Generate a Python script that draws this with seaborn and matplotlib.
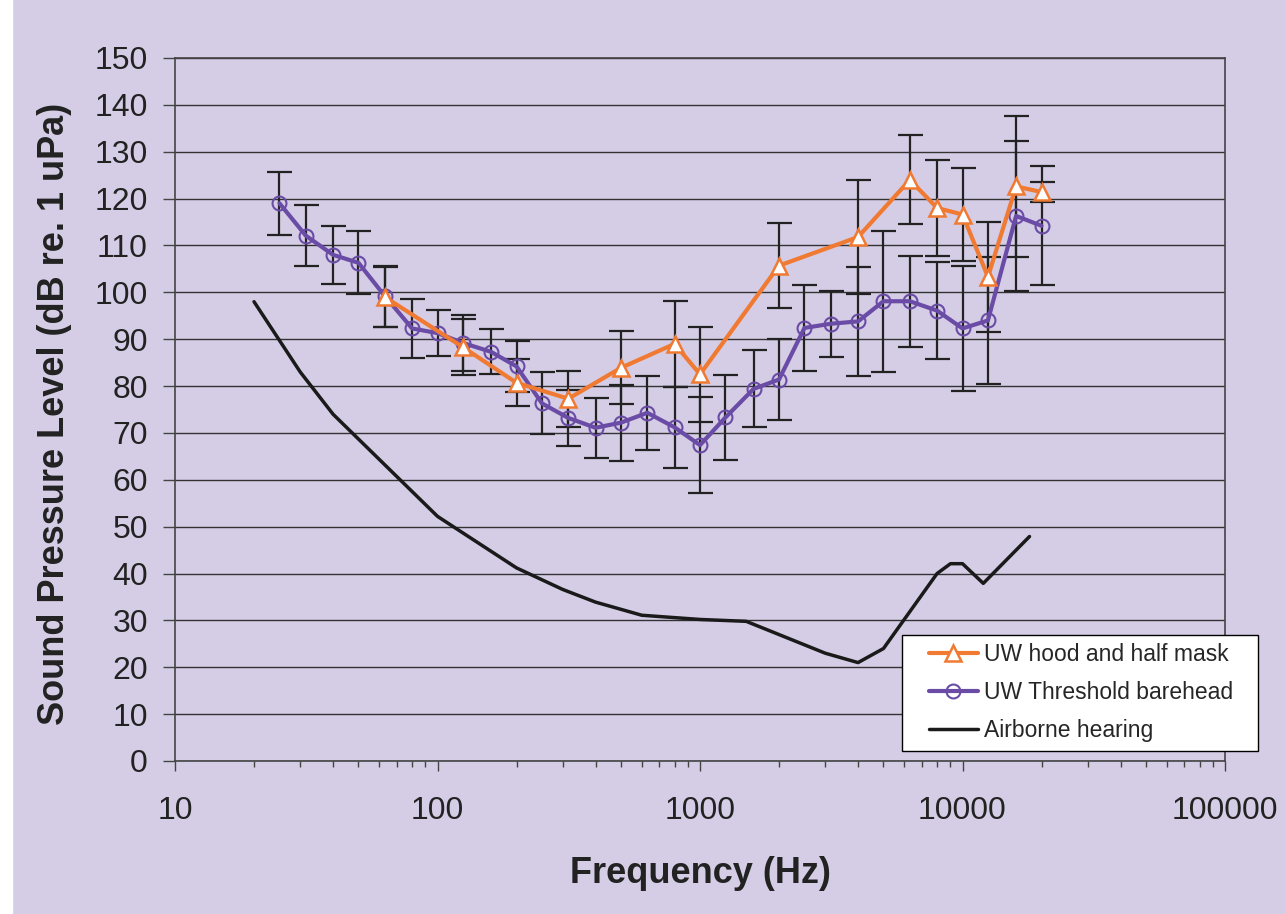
import numpy as np
import pandas as pd
import seaborn as sns
import matplotlib.pyplot as plt
from matplotlib.ticker import LogLocator, NullFormatter

# values (dB re 1 uPa)
freq_bare = [25, 31.5, 40, 50, 63, 80, 100, 125, 160, 200, 250, 315, 400, 500, 630,
             800, 1000, 1250, 1600, 2000, 2500, 3150, 4000, 5000, 6300, 8000, 10000,
             12500, 16000, 20000]
spl_bare = [119.0, 112.1, 108.0, 106.3, 99.2, 92.3, 91.3, 89.2, 87.3, 84.2, 76.3, 73.2,
            71.1, 72.2, 74.3, 71.2, 67.4, 73.3, 79.4, 81.4, 92.4, 93.3, 93.8, 98.1,
            98.1, 96.1, 92.3, 94.0, 116.3, 114.2]
err_bare = [6.7, 6.5, 6.2, 6.7, 6.5, 6.3, 4.9, 6.0, 4.8, 5.5, 6.6, 6.0, 6.4, 8.1, 7.9,
            8.6, 10.2, 9.0, 8.2, 8.7, 9.2, 7.0, 11.7, 15.0, 9.7, 10.4, 13.3, 13.5,
            16.0, 12.7]

freq_hood = [63, 125, 200, 315, 500, 800, 1000, 2000, 4000, 6300, 8000, 10000, 12500,
             16000, 20000]
spl_hood = [99.0, 88.3, 80.7, 77.3, 83.9, 89.0, 82.5, 105.7, 111.8, 124.0, 118.0, 116.6,
            103.3, 122.6, 121.4]
err_hood = [6.5, 6.0, 5.0, 6.0, 7.8, 9.2, 10.2, 9.0, 12.2, 9.5, 10.2, 10.0, 11.7,
            15.0, 2.1]

freq_air = [20, 30, 40, 100, 200, 300, 400, 600, 1000, 1500, 3000, 4000, 5000, 8000,
            9000, 10000, 12000, 18000]
spl_air = [98.0, 83.0, 74.0, 52.2, 41.2, 36.6, 33.9, 31.1, 30.2, 29.8, 23.0, 21.0, 24.0,
           40.0, 42.1, 42.1, 37.9, 47.9]

x_ticks = [10, 100, 1000, 10000, 100000]
x_tick_labels = ["10", "100", "1000", "10000", "100000"]
y_ticks = list(range(0, 151, 10))

bg = "#D5CDE5"
orange = "#F07A32"
purple = "#6A4CA6"
dark = "#222222"

sns.set_style("ticks", {"axes.facecolor": bg, "figure.facecolor": bg})
plt.rcParams["font.family"] = ["Liberation Sans", "DejaVu Sans"]

fig = plt.figure(figsize=(12.85, 9.14), dpi=100)
fig.patches.append(plt.Rectangle((0, 0), 12 / 1285, 1, transform=fig.transFigure,
                                 color="white", zorder=-1))
ax = fig.add_axes([175 / 1285, 153 / 914, 1050 / 1285, 703 / 914])
ax.set_xscale("log")

# error bars first, lines and markers on top
ax.errorbar(freq_bare, spl_bare, yerr=err_bare, fmt="none", ecolor=dark,
            elinewidth=1.6, capsize=9, capthick=1.6, zorder=3)
ax.errorbar(freq_hood, spl_hood, yerr=err_hood, fmt="none", ecolor=dark,
            elinewidth=1.6, capsize=9, capthick=1.6, zorder=3)

hood = pd.DataFrame({"f": freq_hood, "spl": spl_hood})
bare = pd.DataFrame({"f": freq_bare, "spl": spl_bare})
air = pd.DataFrame({"f": freq_air, "spl": spl_air})

sns.lineplot(data=hood, x="f", y="spl", ax=ax, color=orange, lw=3, marker="^",
             markersize=12, markerfacecolor="white", markeredgecolor=orange,
             markeredgewidth=1.8, label="UW hood and half mask", zorder=5)
sns.lineplot(data=bare, x="f", y="spl", ax=ax, color=purple, lw=3, marker="o",
             markersize=10, markerfacecolor="none", markeredgecolor=purple,
             markeredgewidth=1.5, label="UW Threshold barehead", zorder=4)
sns.lineplot(data=air, x="f", y="spl", ax=ax, color="#1a1a1a", lw=2.5,
             label="Airborne hearing", zorder=4)

ax.set_xlim(10, 100000)
ax.set_ylim(0, 150)
ax.set_xticks(x_ticks)
ax.set_xticklabels(x_tick_labels)
ax.xaxis.set_minor_locator(LogLocator(base=10, subs=np.arange(2, 10), numticks=20))
ax.xaxis.set_minor_formatter(NullFormatter())
ax.set_yticks(y_ticks)

ax.yaxis.grid(True, color="#333333", lw=1)
ax.set_axisbelow(True)
for s in ax.spines.values():
    s.set_color("#444444")
    s.set_linewidth(1.2)

ax.tick_params(axis="x", which="major", length=7, width=1, color="#444444",
               pad=18, labelsize=23, labelcolor="#222222")
ax.tick_params(axis="x", which="minor", length=4.5, width=1, color="#444444")
ax.tick_params(axis="y", length=8.5, width=1, color="#444444", pad=11,
               labelsize=23, labelcolor="#222222")

ax.set_xlabel("Frequency (Hz)", fontsize=26, fontweight="bold", color="#222222")
ax.set_ylabel("Sound Pressure Level (dB re. 1 uPa)", fontsize=26, fontweight="bold",
              color="#222222")
ax.xaxis.set_label_coords(0.5, -0.135)
ax.yaxis.set_label_coords(-0.098, 0.494)

# legend box sticks out past the right edge of the plot area
box = plt.Rectangle((0.6922, 0.0142), 0.3392, 0.165, transform=ax.transAxes,
                    facecolor="white", edgecolor="black", lw=1, clip_on=False, zorder=9)
ax.add_patch(box)
leg = ax.legend(loc="upper left", bbox_to_anchor=(0.7177, 0.168), frameon=False,
                fontsize=16.5, handlelength=2.14, handletextpad=0.28,
                labelspacing=0.65, borderpad=0, borderaxespad=0)
leg.set_zorder(10)

fig.savefig("out.png", dpi=100, facecolor=fig.get_facecolor())
